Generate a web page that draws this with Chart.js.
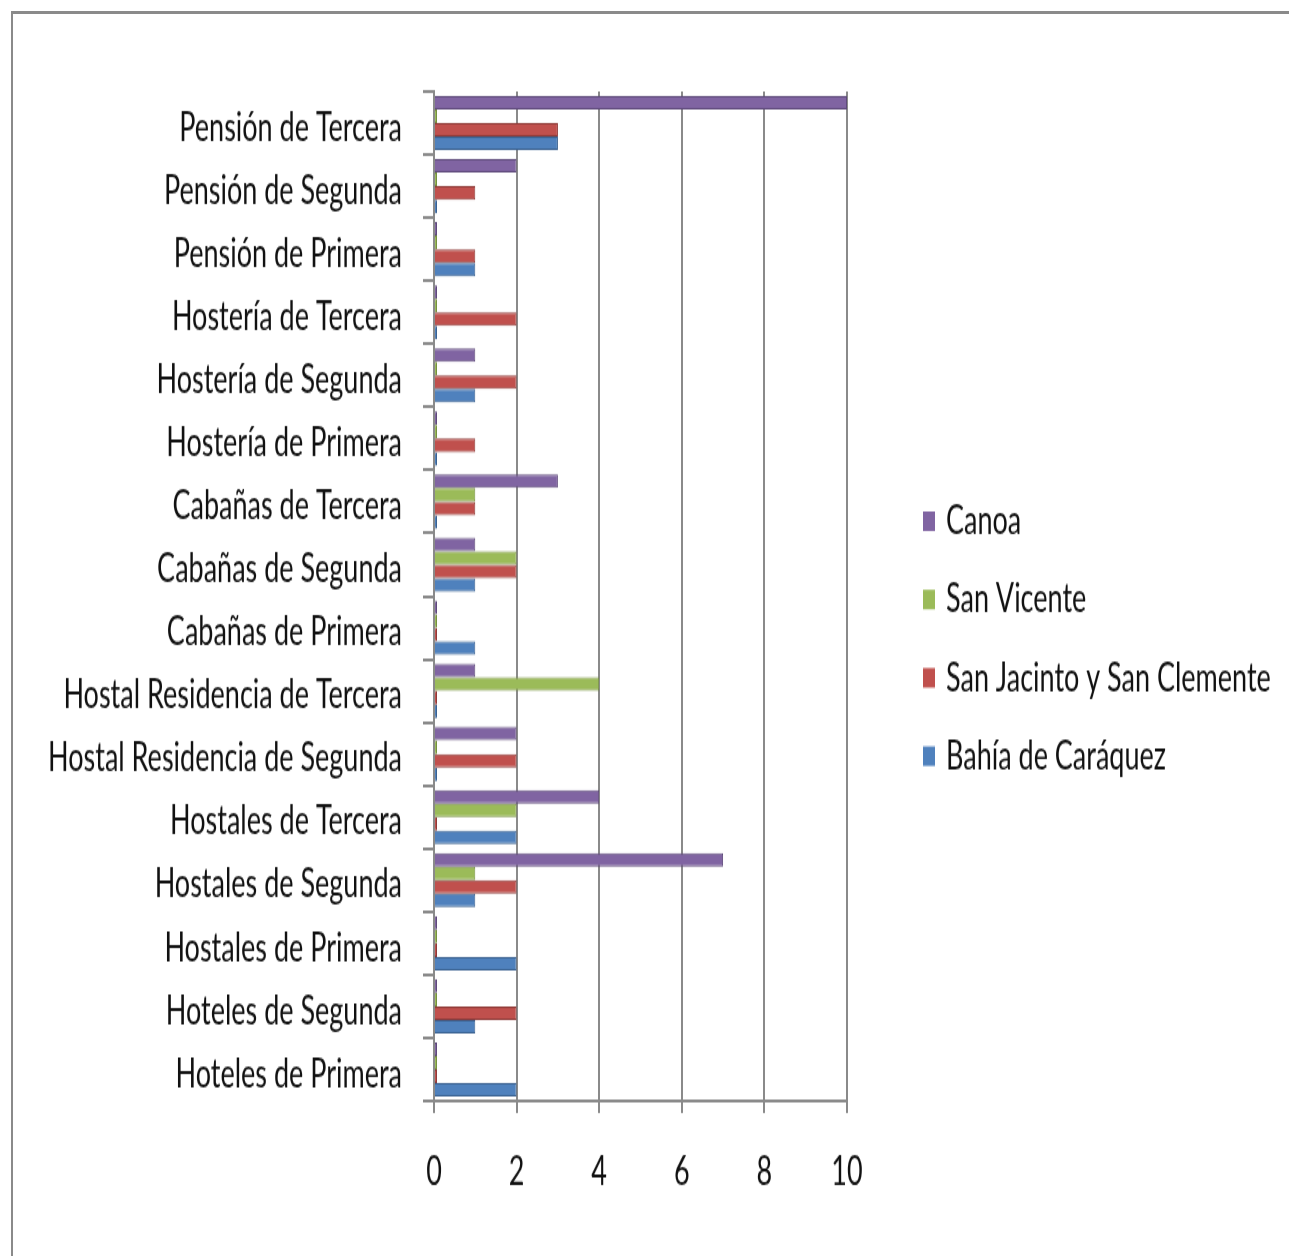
<!DOCTYPE html>
<html>
<head>
<meta charset="utf-8">
<script src="https://cdn.jsdelivr.net/npm/chart.js@4.4.1/dist/chart.umd.min.js"></script>
<style>
  html, body { margin: 0; padding: 0; background: #fff; }
  body { width: 1289px; height: 1256px; overflow: hidden; position: relative; }
  /* the original picture is stretched vertically, so draw flat and stretch */
  #wrap { position: absolute; left: 0; top: 0; width: 1289px; height: 837px;
          transform: scaleY(1.5); transform-origin: 0 0; }
  #frame { position: absolute; left: 11px; top: 11px; right: -10px; bottom: -10px;
           border-top: 3px solid #8a8a8a; border-left: 2px solid #8a8a8a; }
</style>
</head>
<body>
<div id="frame"></div>
<div id="wrap"><canvas id="c" width="1289" height="837"></canvas></div>
<script>
/* categories, top to bottom as in the original */
var categories = [
  'Pensión de Tercera', 'Pensión de Segunda', 'Pensión de Primera',
  'Hostería de Tercera', 'Hostería de Segunda', 'Hostería de Primera',
  'Cabañas de Tercera', 'Cabañas de Segunda', 'Cabañas de Primera',
  'Hostal Residencia de Tercera', 'Hostal Residencia de Segunda',
  'Hostales de Tercera', 'Hostales de Segunda', 'Hostales de Primera',
  'Hoteles de Segunda', 'Hoteles de Primera'
];
var canoa       = [10, 2, 0, 0, 1, 0, 3, 1, 0, 1, 2, 4, 7, 0, 0, 0];
var sanVicente  = [0, 0, 0, 0, 0, 0, 1, 2, 0, 4, 0, 2, 1, 0, 0, 0];
var sanJacinto  = [3, 1, 1, 2, 2, 1, 1, 2, 0, 0, 2, 0, 2, 0, 2, 0];
var bahia       = [3, 0, 1, 0, 1, 0, 0, 1, 1, 0, 0, 2, 1, 2, 1, 2];
var seriesNames = ['Canoa', 'San Vicente', 'San Jacinto y San Clemente', 'Bahía de Caráquez'];
var xTicks = [0, 2, 4, 6, 8, 10];

var COL  = ['#8064a2', '#9bbb59', '#c0504d', '#4f81bd'];
var EDGE = ['#5e4a7a', '#76903f', '#8f3a37', '#3a6190'];
var GRID = '#8a8a8a';
var FONT = 'Lato, "Open Sans", sans-serif';

Chart.defaults.font.family = FONT;
Chart.defaults.color = '#111';

/* legend drawn by hand so it sits exactly where the original has it */
var sideLegend = {
  id: 'sideLegend',
  afterDraw: function (c) {
    var g = c.ctx;
    g.save();
    g.font = '27px ' + FONT;
    g.textBaseline = 'middle';
    g.textAlign = 'left';
    c.data.datasets.forEach(function (d, i) {
      var y = 347.5 + i * 52.2;
      g.fillStyle = d.backgroundColor;
      g.fillRect(923, y - 6.5, 12, 13);
      g.fillStyle = '#111';
      g.fillText(d.label, 946, y);
    });
    g.restore();
  }
};

var sets = [canoa, sanVicente, sanJacinto, bahia].map(function (vals, i) {
  return {
    label: seriesNames[i],
    data: vals,
    backgroundColor: COL[i],
    borderColor: EDGE[i],
    borderWidth: 1,
    borderSkipped: 'start',
    minBarLength: 3,
    categoryPercentage: 0.86,
    barPercentage: 1.0
  };
});

new Chart(document.getElementById('c'), {
  type: 'bar',
  data: { labels: categories, datasets: sets },
  plugins: [sideLegend],
  options: {
    indexAxis: 'y',
    responsive: false,
    devicePixelRatio: 1,
    animation: false,
    layout: { padding: { top: 61, right: 442, bottom: 0, left: 0 } },
    plugins: { legend: { display: false }, tooltip: { enabled: false } },
    scales: {
      x: {
        min: 0, max: 10,
        afterBuildTicks: function (s) { s.ticks = xTicks.map(function (v) { return { value: v }; }); },
        afterFit: function (s) { s.height = 103; },
        grid: { color: GRID, lineWidth: 2, tickLength: 8, tickColor: GRID },
        border: { color: GRID, width: 2 },
        ticks: { font: { size: 27 }, padding: 23, color: '#111', maxRotation: 0 }
      },
      y: {
        afterFit: function (s) { s.width = 434; },
        offset: true,
        grid: { offset: true, drawOnChartArea: false, tickLength: 11, color: GRID, lineWidth: 2 },
        border: { color: GRID, width: 2 },
        ticks: { font: { size: 27 }, padding: 21, labelOffset: 3, color: '#111', autoSkip: false }
      }
    }
  }
});
</script>
</body>
</html>
